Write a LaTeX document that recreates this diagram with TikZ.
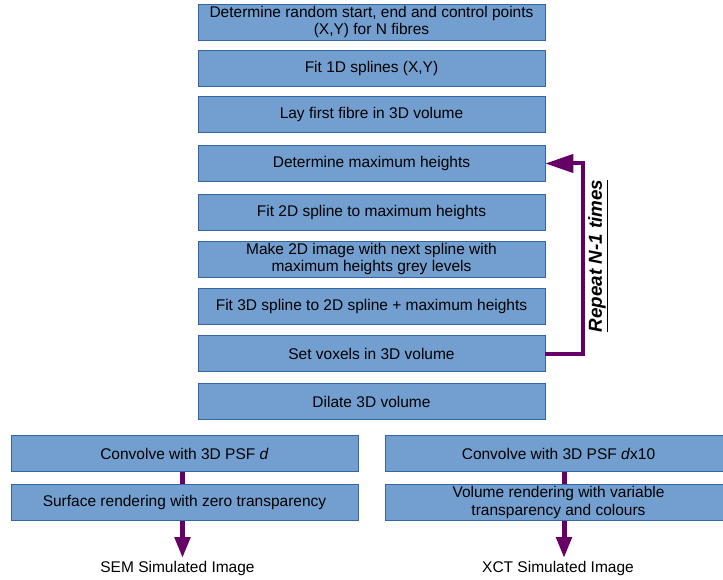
\documentclass[tikz,border=0pt]{standalone}
\usepackage{fontspec}
\setmainfont{Liberation Sans}
\usetikzlibrary{arrows.meta,calc}
\definecolor{boxblue}{RGB}{114,159,207}
\definecolor{boxedge}{RGB}{52,101,164}
\definecolor{flowpurple}{RGB}{102,0,102}
\newcommand{\bxW}{347pt}
\newcommand{\bxH}{36pt}
\newcommand{\midX}{371.5}
\tikzset{
  stepbox/.style ={draw=boxedge,line width=0.6pt,fill=boxblue,minimum width=\bxW,minimum height=\bxH,
                   inner sep=0pt,align=center,font=\fontsize{15.5}{17.8}\selectfont},
  flowline/.style={flowpurple,line width=5pt},
  flowarr/.style ={flowline,-{Triangle[length=21pt,width=15pt]}},
  looparr/.style ={flowpurple,line width=4pt,-{Triangle[length=28pt,width=18pt]}},
  outlab/.style  ={inner sep=2.5pt,anchor=base,font=\fontsize{15.5}{17.8}\selectfont},
  replab/.style  ={rotate=90,inner sep=1pt,font=\fontsize{18.8}{21}\selectfont\bfseries\itshape},
}

\begin{document}
\begin{tikzpicture}[x=1pt,y=-1pt]
  \useasboundingbox (0,0) rectangle (723,580);
  % main column
  \node[stepbox] (pts)    at (\midX,22)    {Determine random start, end and control points\\(X,Y) for N fibres};
  \node[stepbox] (fit1d)  at (\midX,68)    {Fit 1D splines (X,Y)};
  \node[stepbox] (lay)    at (\midX,114.5) {Lay first fibre in 3D volume};
  \node[stepbox] (maxh)   at (\midX,163.5) {Determine maximum heights};
  \node[stepbox] (fit2d)  at (\midX,212.5) {Fit 2D spline to maximum heights};
  \node[stepbox] (img2d)  at (\midX,259)   {Make 2D image with next spline with\\maximum heights grey levels};
  \node[stepbox] (fit3d)  at (\midX,306)   {Fit 3D spline to 2D spline + maximum heights};
  \node[stepbox] (voxels) at (\midX,353.5) {Set voxels in 3D volume};
  \node[stepbox] (dilate) at (\midX,401.5) {Dilate 3D volume};
  % repeat loop
  \draw[looparr] (voxels.east) -- ++(38,0) |- (maxh.east);
  \node[replab] (rep) at (598,256) {\underline{Repeat N-1 times}};
  % two branches
  \node[stepbox] (convL) at (184.5,453.5) {Convolve with 3D PSF \textit{d}};
  \node[stepbox] (surfL) at (184.5,502.5) {Surface rendering with zero transparency};
  \node[stepbox] (convR) at (558.5,453.5) {Convolve with 3D PSF \textit{d}x10};
  \node[stepbox] (volR)  at (558.5,502.5) {Volume rendering with variable\\transparency and colours};
  \node[outlab] (semlab) at (177.5,572) {SEM Simulated Image};
  \node[outlab] (xctlab) at (558,572)   {XCT Simulated Image};
  \draw[flowline] ([xshift=-2pt]convL.south) -- ([xshift=-2pt]surfL.north);
  \draw[flowarr]  ([xshift=-2pt]surfL.south) -- ([xshift=-2pt]surfL.south |- semlab.north);
  \draw[flowline] ([xshift=5.5pt]convR.south) -- ([xshift=5.5pt]volR.north);
  \draw[flowarr]  ([xshift=5.5pt]volR.south) -- ([xshift=5.5pt]volR.south |- xctlab.north);
\end{tikzpicture}
\end{document}
